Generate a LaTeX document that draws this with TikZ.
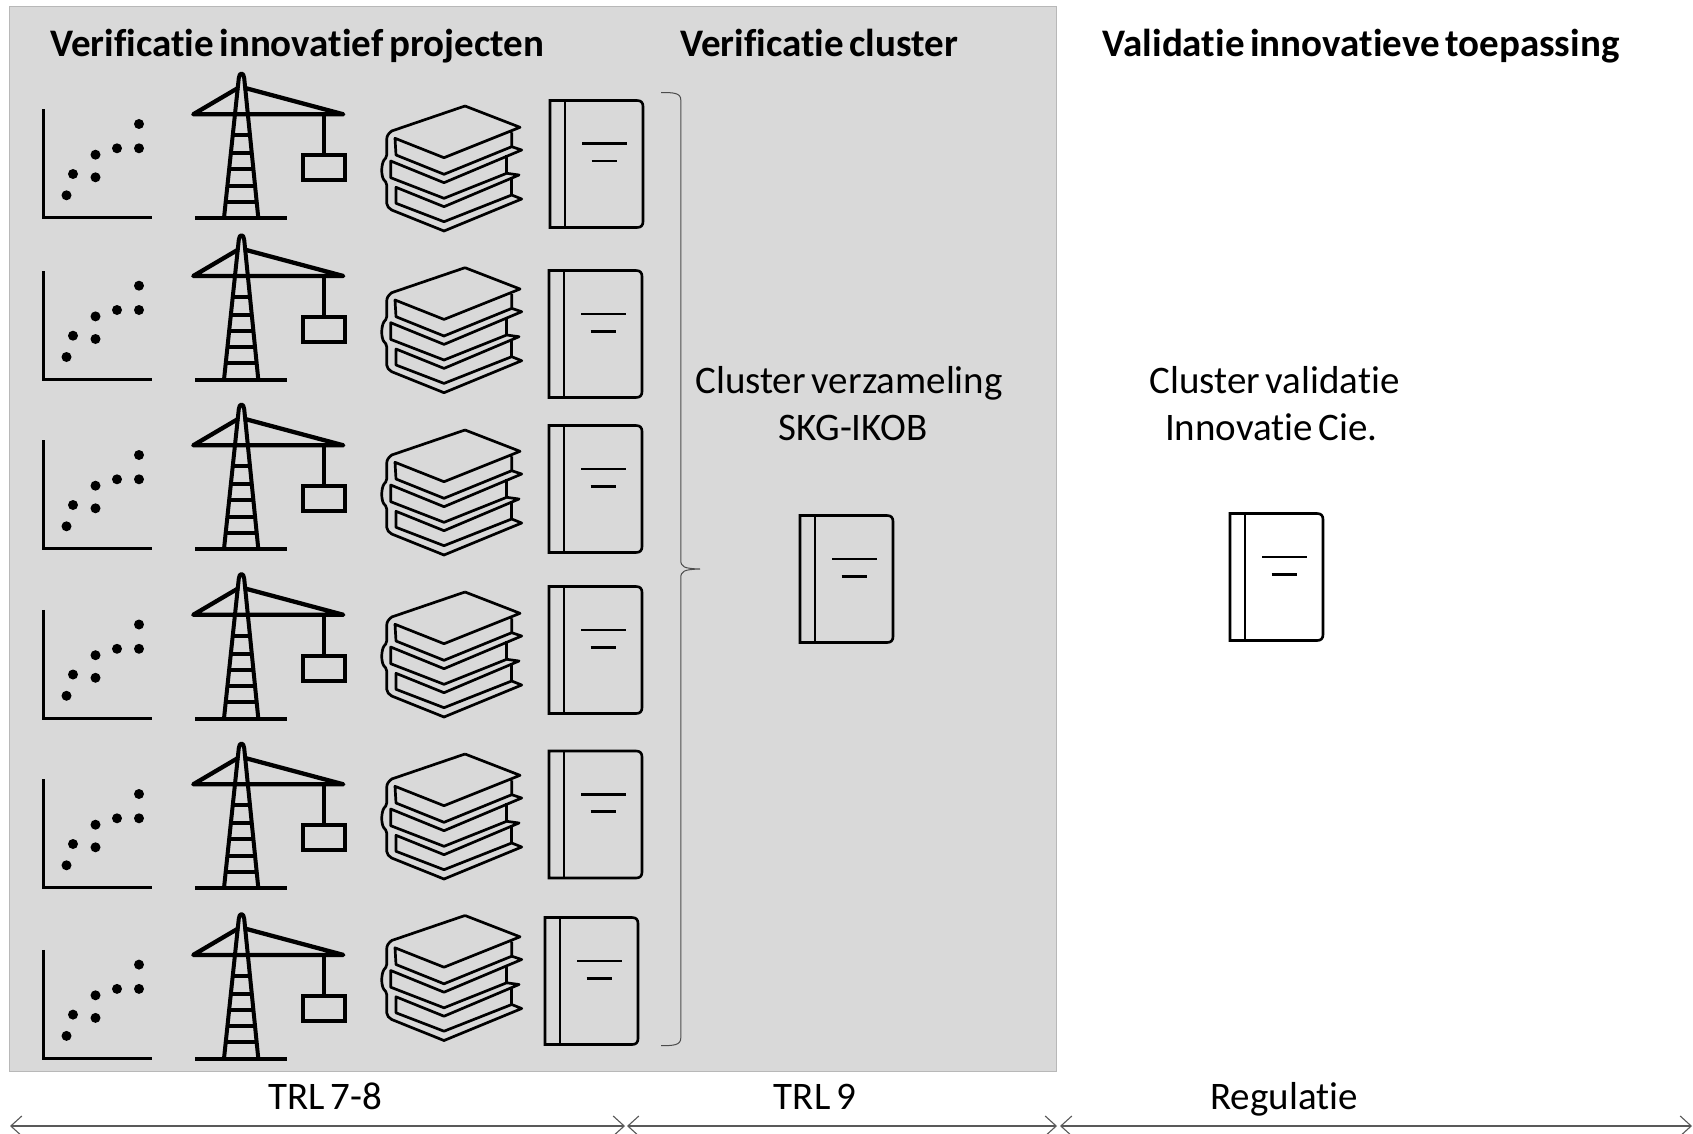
\documentclass[tikz,border=0pt]{standalone}
\usepackage{fontspec}
\setmainfont{Carlito}[Ligatures=NoCommon,WordSpace=0.65]
\usetikzlibrary{arrows.meta}
\tikzset{
  x=1pt,y=-1pt,
  icon/.style={line width=4pt,black},
  bookline/.style={line width=2.7pt,black,line join=round},
  docline/.style={line width=2.6pt,black},
  title/.style={font=\fontsize{39}{43}\selectfont\bfseries,inner sep=0pt,anchor=base},
  label/.style={font=\fontsize{39}{43}\selectfont,inner sep=0pt,anchor=base},
  span/.style={line width=1.3pt,draw=black!65,{Straight Barb[length=11pt,width=20pt,line width=1.1pt]}-{Straight Barb[length=11pt,width=20pt,line width=1.1pt]}},
  scatterico/.pic={
    \draw[icon,line width=3pt] (43.75,109.3) -- (43.75,217.7) -- (152,217.7);
    \foreach \px/\py in {139/124,139/148.3,117/148.3,95.5/154.7,95.5/177.3,73/174,66.5/195.3}
      \fill (\px,\py) circle[radius=5];
  },
  craneico/.pic={
    \draw[icon] (195,218) -- (287.3,218);
    \draw[icon,line join=round] (224,218) -- (238.8,78) .. controls (239.3,72) and (243.7,72) .. (244.2,78) -- (258.3,218);
    \draw[icon,line join=round,line width=4.3pt] (238.5,87.7) -- (193.3,114.3) -- (343.3,114.3) -- (244,87.7);
    \foreach \ry/\hw in {135/8.6,153.3/10.5,169.3/12,185.7/13.8,201.7/15.4}
      \draw[icon] (241.5-\hw,\ry) -- (241.5+\hw,\ry);
    \draw[icon] (324,114.3) -- (324,155);
    \draw[icon] (303.3,155) rectangle (345,180);
  },
  bookico/.pic={
    \draw[bookline] (465,106) -- (520,127.3) -- (444,157.7) -- (395,138.3) -- (396,155) -- (444,174.3) -- (511.7,146.7) -- (511.7,132.3);
    \draw[bookline] (465,106) -- (391.7,131) .. controls (388,134) and (386.7,136) .. (386.7,140) -- (386.7,155)
      .. controls (386.7,158) and (385,158.5) .. (384,160) .. controls (381,165) and (381,176) .. (384,180)
      .. controls (385,181.5) and (386.7,182) .. (386.7,185) -- (386.7,203.3)
      .. controls (386.7,206) and (389,208.5) .. (391.7,210) -- (444,231) -- (521.7,199) -- (511.7,195) -- (444,221.7) -- (396,203.3) -- (396,187.3) -- (444,206.7) -- (519,175) -- (506.7,173.3) -- (444,198.3) -- (390.7,177.7) -- (390.7,161) -- (444,182.7) -- (521.7,150) -- (511.7,146.7);
    \draw[bookline] (506.7,155) -- (506.7,173.3);
    \draw[bookline] (511.7,178.3) -- (511.7,195);
  },
  docico/.pic={
    \draw[docline] (0,0) -- (87,0) .. controls (91,0) and (93,2) .. (93,6) -- (93,121) .. controls (93,125) and (91,127) .. (87,127) -- (0,127) -- cycle;
    \draw[docline] (15,0) -- (15,127);
    \draw[docline] (32,43.3) -- (77,43.3);
    \draw[docline] (41.5,60.7) -- (67,60.7);
  }
}
\begin{document}
\begin{tikzpicture}
\useasboundingbox (0,0) rectangle (1693,1134);
\fill[white] (0,0) rectangle (1693,1134);
\draw[fill=black!15,draw=black!28,line width=0.8pt] (9,6) rectangle (1056.5,1071.5);

\node[title] (t1) at (297,57) {Verificatie innovatief projecten};
\node[title] (t2) at (819,57) {Verificatie cluster};
\node[title] (t3) at (1361,57) {Validatie innovatieve toepassing};

\foreach \off in {0,161.7,331,500.5,670,840.6}{
  \pic at (0,\off) {scatterico};
  \pic at (0,\off) {craneico};
}
\foreach \off in {0,161.7,324,486,648,809.5}{
  \pic at (0,\off) {bookico};
}
\foreach \dx/\dy in {550/100.5,549/270.5,549/425.5,549/586.5,549/751,545/917.5,800/515.5,1230/513.5}{
  \pic at (\dx,\dy) {docico};
}

\draw[line width=1pt,black!70] (661,92.5) .. controls (674,92.5) and (680.8,93) .. (680.8,100)
  -- (680.8,560) .. controls (680.8,567) and (684,568.5) .. (700,569)
  .. controls (684,569.5) and (680.8,571) .. (680.8,578)
  -- (680.8,1038) .. controls (680.8,1045) and (674,1045.7) .. (661,1045.7);

\node[label] (c1) at (849,393.5) {Cluster verzameling};
\node[label] (c2) at (853,440.5) {SKG-IKOB};
\node[label] (v1) at (1274.5,393.5) {Cluster validatie};
\node[label] (v2) at (1271.5,440.5) {Innovatie Cie.};

\node[label] (l1) at (325,1109) {TRL 7-8};
\node[label] (l2) at (815,1109) {TRL 9};
\node[label] (l3) at (1284,1109) {Regulatie};

\coordinate (a0) at (10,1126);
\coordinate (a1) at (625,1126);
\coordinate (b0) at (627,1126);
\coordinate (b1) at (1057,1126);
\coordinate (c0) at (1060,1126);
\coordinate (c3) at (1692,1126);
\draw[span] (a0) -- (a1);
\draw[span] (b0) -- (b1);
\draw[span] (c0) -- (c3);
\end{tikzpicture}
\end{document}
